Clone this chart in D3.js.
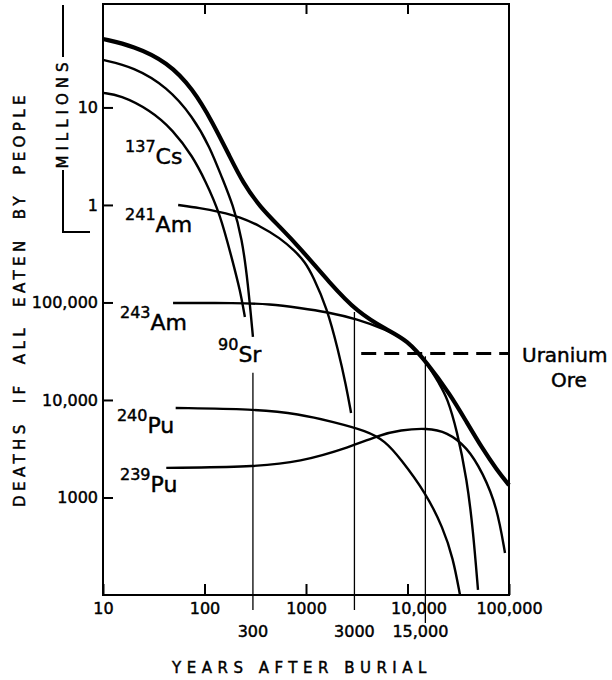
<!DOCTYPE html>
<html lang="en">

<head>
  <meta charset="UTF-8" />
  <title>Deaths if all eaten by people</title>
  <script src="https://d3js.org/d3.v7.min.js"></script>
  <style>
    body { margin: 0; background: #fff; }
    svg text { font-family: "DejaVu Sans", sans-serif; fill: #000; stroke: #000; stroke-width: 0.45px; }
  </style>
</head>

<body>
  <svg></svg>
</body>

<script>
  // values: years after burial -> deaths
  const totalYears = [10, 20, 43, 77, 121, 178, 240, 352, 554, 873, 1720, 3180, 6280, 9890, 15600, 26200, 37700, 54200, 76200, 100000];
  const totalDeaths = [50400000, 42700000, 29300000, 15500000, 6930000, 3110000, 1680000, 954000, 595000, 362000, 158000, 79900, 52200, 41200, 24000, 11500, 6090, 3220, 1910, 1340];

  const sr90Years = [10, 20, 43, 77, 113, 149, 191, 234, 268, 300];
  const sr90Deaths = [30700000, 26000000, 16200000, 7990000, 3930000, 1890000, 1000000, 459000, 158000, 44300];

  const cs137Years = [10, 14.7, 29, 49, 77, 101, 142, 191, 224, 250];
  const cs137Deaths = [14100000, 13400000, 9430000, 5880000, 3110000, 1800000, 828000, 254000, 134000, 71000];

  const am241Years = [55, 90, 142, 224, 352, 554, 779, 977, 1170, 1610, 2070, 2480, 2780];
  const am241Deaths = [1000000, 932000, 848000, 753000, 609000, 459000, 337000, 260000, 187000, 87800, 32600, 14200, 7360];

  const am243Years = [49, 209, 442, 873, 1610, 3180, 6280, 9890, 15600, 20900, 24500, 30700, 38600, 44200, 49500];
  const am243Deaths = [98800, 98800, 96500, 87800, 79900, 67700, 52200, 41200, 24000, 14200, 10700, 4920, 1510, 464, 113];

  const pu240Years = [52, 300, 873, 1850, 3990, 6000, 8440, 15200, 22400, 28100, 32900];
  const pu240Deaths = [8280, 8080, 7180, 5950, 4810, 3800, 2540, 1110, 487, 240, 100];

  const pu239Years = [42, 300, 873, 2710, 5360, 8440, 15600, 24500, 38600, 55400, 76200, 91300];
  const pu239Deaths = [2010, 2060, 2310, 3290, 4380, 4920, 5160, 4700, 3290, 1780, 799, 270];

  // isotope labels (start of label, baseline of element name)
  const labelSup = ['137', '241', '90', '243', '240', '239'];
  const labelName = ['Cs', 'Am', 'Sr', 'Am', 'Pu', 'Pu'];
  const labelYears = [16.5, 16.5, 136, 14.7, 13.7, 14.7];
  const labelDeaths = [2600000, 528000, 24500, 52200, 4590, 1140];

  const yTickValues = [1000, 10000, 100000, 1000000, 10000000];
  const yTickLabels = ['1000', '10,000', '100,000', '1', '10'];
  const xTickValues = [10, 100, 1000, 10000, 100000];
  const xTickLabels = ['10', '100', '1000', '10,000', '100,000'];
  const topTickValues = [100, 1000, 10000];

  const markYears = [300, 3000, 15000];
  const markLabels = ['300', '3000', '15,000'];
  const markTops = [19000, 80000, 28000];

  const uraniumLevel = 30000;
  const uraniumStart = 3500;

  const width = 612, height = 680;
  const plotLeft = 103, plotRight = 509, plotTop = 4, plotBottom = 595;

  const svg = d3.select('svg').attr('width', width).attr('height', height);

  const x = d3.scaleLog().domain([10, 100000]).range([plotLeft, plotRight]);
  const y = d3.scaleLog().domain([100, 115000000]).range([plotBottom, plotTop]);

  // frame
  svg.append('rect')
    .attr('x', plotLeft).attr('y', plotTop)
    .attr('width', plotRight - plotLeft).attr('height', plotBottom - plotTop)
    .attr('fill', 'none').attr('stroke', '#000').attr('stroke-width', 2);

  function styleAxis(g) {
    g.select('.domain').remove();
    g.selectAll('line').attr('stroke', '#000').attr('stroke-width', 2);
    g.selectAll('text').attr('font-family', '"DejaVu Sans", sans-serif').attr('font-size', 16).attr('fill', '#000');
    g.attr('font-family', null).attr('font-size', null);
  }

  svg.append('g')
    .attr('transform', 'translate(' + plotLeft + ',0)')
    .call(d3.axisLeft(y).tickValues(yTickValues).tickFormat((d, i) => yTickLabels[i]).tickSize(-10).tickPadding(5))
    .call(styleAxis);

  const xAxisG = svg.append('g')
    .attr('transform', 'translate(0,' + plotBottom + ')')
    .call(d3.axisBottom(x).tickValues(xTickValues).tickFormat((d, i) => xTickLabels[i]).tickSize(-11).tickPadding(8))
    .call(styleAxis);
  xAxisG.selectAll('text').filter(d => d === 10000).attr('dx', 11);

  svg.append('g')
    .attr('transform', 'translate(0,' + plotTop + ')')
    .call(d3.axisTop(x).tickValues(topTickValues).tickFormat('').tickSize(-10))
    .call(styleAxis);

  // marked years: thin drop lines and second row of labels
  const markDrop = [15, 15, 28];
  svg.selectAll('.mark')
    .data(markYears)
    .join('line')
    .classed('mark', true)
    .attr('x1', d => x(d)).attr('x2', d => x(d))
    .attr('y1', (d, i) => y(markTops[i]))
    .attr('y2', (d, i) => plotBottom + markDrop[i])
    .attr('stroke', '#000').attr('stroke-width', 1.3);

  svg.selectAll('.markLabel')
    .data(markYears)
    .join('text')
    .classed('markLabel', true)
    .attr('x', (d, i) => x(d) + (i === 2 ? -5 : 0))
    .attr('y', plotBottom + 42)
    .attr('text-anchor', 'middle')
    .attr('font-size', 16)
    .text((d, i) => markLabels[i]);

  // curves
  const series = [
    { years: totalYears, deaths: totalDeaths, w: 4.2 },
    { years: sr90Years, deaths: sr90Deaths, w: 2.4 },
    { years: cs137Years, deaths: cs137Deaths, w: 2.4 },
    { years: am241Years, deaths: am241Deaths, w: 2.4 },
    { years: am243Years, deaths: am243Deaths, w: 2.4 },
    { years: pu240Years, deaths: pu240Deaths, w: 2.4 },
    { years: pu239Years, deaths: pu239Deaths, w: 2.4 }
  ];

  const line = d3.line()
    .x(d => x(d[0]))
    .y(d => y(d[1]))
    .curve(d3.curveBasis);

  svg.selectAll('.curve')
    .data(series)
    .join('path')
    .classed('curve', true)
    .attr('d', s => line(s.years.map((yr, i) => [yr, s.deaths[i]])))
    .attr('fill', 'none')
    .attr('stroke', '#000')
    .attr('stroke-width', s => s.w);

  // uranium ore level
  svg.append('line')
    .attr('x1', x(uraniumStart)).attr('x2', x(100000))
    .attr('y1', y(uraniumLevel)).attr('y2', y(uraniumLevel))
    .attr('stroke', '#000').attr('stroke-width', 3)
    .attr('stroke-dasharray', '15,8');

  svg.append('text')
    .attr('x', x(100000) + 13).attr('y', y(uraniumLevel) + 9)
    .attr('font-size', 20)
    .text('Uranium');
  svg.append('text')
    .attr('x', x(100000) + 60).attr('y', y(uraniumLevel) + 34)
    .attr('text-anchor', 'middle')
    .attr('font-size', 20)
    .text('Ore');

  // isotope labels
  const lab = svg.selectAll('.iso')
    .data(labelName)
    .join('text')
    .classed('iso', true)
    .attr('x', (d, i) => x(labelYears[i]))
    .attr('y', (d, i) => y(labelDeaths[i]));
  lab.append('tspan')
    .attr('font-size', 16)
    .attr('dy', -12)
    .text((d, i) => labelSup[i]);
  lab.append('tspan')
    .attr('font-size', 22)
    .attr('dy', 12)
    .text(d => d);

  // axis titles
  svg.append('text')
    .attr('transform', 'translate(25,299) rotate(-90)')
    .attr('text-anchor', 'middle')
    .attr('font-size', 15)
    .attr('letter-spacing', 4.4)
    .attr('word-spacing', 8)
    .text('DEATHS IF ALL EATEN BY PEOPLE');

  svg.append('text')
    .attr('transform', 'translate(68,113) rotate(-90)')
    .attr('text-anchor', 'middle')
    .attr('font-size', 15)
    .attr('letter-spacing', 5)
    .text('MILLIONS');

  // bracket for the millions range
  svg.append('path')
    .attr('d', 'M63,5V57M63,170V232H90')
    .attr('fill', 'none').attr('stroke', '#000').attr('stroke-width', 2);

  svg.append('text')
    .attr('x', 302).attr('y', 673)
    .attr('text-anchor', 'middle')
    .attr('font-size', 15)
    .attr('letter-spacing', 5.5)
    .text('YEARS AFTER BURIAL');
</script>

</html>
